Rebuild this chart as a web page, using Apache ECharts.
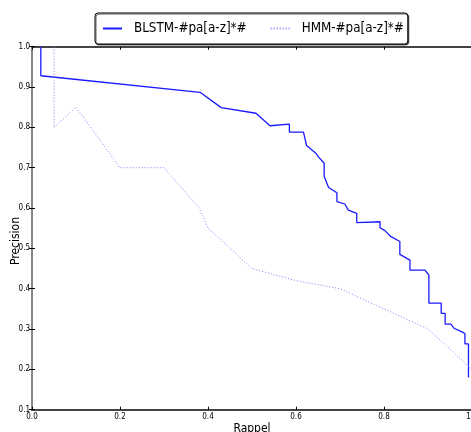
<!DOCTYPE html>
<html>
<head>
<meta charset="utf-8">
<script src="https://cdn.jsdelivr.net/npm/echarts@6/dist/echarts.min.js"></script>
<style>
html,body{margin:0;padding:0;background:#fff;}
#chart{width:471px;height:432px;}
</style>
</head>
<body>
<div id="chart"></div>
<script>
const seriesNames = ['BLSTM-#pa[a-z]*#', 'HMM-#pa[a-z]*#'];
const xTicks = [0, 0.2, 0.4, 0.6, 0.8, 1.0];
const yTicks = [0.1, 0.2, 0.3, 0.4, 0.5, 0.6, 0.7, 0.8, 0.9, 1.0];
const xTitle = 'Rappel';
const yTitle = 'Precision';

// BLSTM: recall values and precision values
const blstmRecall = [0.02, 0.02, 0.382, 0.43, 0.509, 0.541, 0.585, 0.585, 0.617, 0.624, 0.645, 0.651, 0.664, 0.664, 0.674, 0.693, 0.693, 0.711, 0.719, 0.738, 0.738, 0.791, 0.791, 0.802, 0.816, 0.836, 0.836, 0.859, 0.859, 0.893, 0.902, 0.902, 0.93, 0.93, 0.939, 0.939, 0.952, 0.959, 0.977, 0.984, 0.984, 0.992, 0.992];
const blstmPrecision = [1.0, 0.928, 0.887, 0.849, 0.835, 0.804, 0.808, 0.788, 0.788, 0.755, 0.736, 0.727, 0.711, 0.679, 0.651, 0.638, 0.616, 0.610, 0.595, 0.587, 0.564, 0.566, 0.551, 0.544, 0.529, 0.517, 0.485, 0.471, 0.446, 0.446, 0.434, 0.364, 0.364, 0.339, 0.339, 0.312, 0.312, 0.302, 0.293, 0.289, 0.263, 0.263, 0.18];

// HMM
const hmmRecall = [0.05, 0.05, 0.1, 0.2, 0.3, 0.38, 0.4, 0.5, 0.6, 0.7, 0.8, 0.9, 1.0];
const hmmPrecision = [1.0, 0.80, 0.85, 0.70, 0.70, 0.60, 0.55, 0.45, 0.42, 0.40, 0.35, 0.30, 0.20];

const FONT = '"DejaVu Sans Condensed", "Liberation Sans Narrow", "DejaVu Sans", sans-serif';

const zip = (a, b) => a.map((v, i) => [v, b[i]]);

const chart = echarts.init(document.getElementById('chart'), null, {renderer: 'canvas'});

const tickFmt = v => Number(v).toFixed(1);

chart.setOption({
  animation: false,
  backgroundColor: '#fff',
  grid: {left: 32, right: -1, top: 46.7, bottom: 22.3, containLabel: false, outerBoundsMode: 'none'},
  legend: {
    left: 95, top: 13,
    padding: [7, 4, 7, 7],
    itemWidth: 19, itemHeight: 2, itemGap: 23,
    borderColor: '#000', borderWidth: 1, borderRadius: 3,
    backgroundColor: '#fff',
    shadowColor: 'rgba(0,0,0,0.6)', shadowOffsetX: 1, shadowOffsetY: 1, shadowBlur: 0,
    itemStyle: {opacity: 0},
    textStyle: {fontFamily: FONT, fontSize: 13.3, color: '#000', lineHeight: 17, padding: [0, 0, 0, 7]},
    data: seriesNames
  },
  xAxis: [
    {
      type: 'value', min: 0, max: 1, interval: 0.2, position: 'bottom',
      axisLine: {show: true, lineStyle: {color: '#444', width: 2}},
      axisTick: {show: true, inside: true, length: 3, lineStyle: {color: '#000'}},
      axisLabel: {fontFamily: FONT, fontSize: 8, color: '#000', margin: 3, formatter: tickFmt},
      splitLine: {show: false}
    },
    {
      type: 'value', min: 0, max: 1, interval: 0.2, position: 'top',
      axisLine: {show: true, lineStyle: {color: '#444', width: 2}},
      axisTick: {show: true, inside: true, length: 3, lineStyle: {color: '#000'}},
      axisLabel: {show: false},
      splitLine: {show: false}
    }
  ],
  yAxis: [
    {
      type: 'value', min: 0.1, max: 1.0, interval: 0.1, position: 'left',
      axisLine: {show: true, lineStyle: {color: '#888', width: 2}},
      axisTick: {show: true, inside: true, length: 3, lineStyle: {color: '#000'}},
      axisLabel: {fontFamily: FONT, fontSize: 8, color: '#000', margin: 2, formatter: tickFmt},
      splitLine: {show: false}
    },
    {
      type: 'value', min: 0.1, max: 1.0, interval: 0.1, position: 'right',
      axisLine: {show: false},
      axisTick: {show: true, inside: true, length: 3, lineStyle: {color: '#000'}},
      axisLabel: {show: false},
      splitLine: {show: false}
    }
  ],
  series: [
    {
      name: seriesNames[0], type: 'line', symbol: 'none', showSymbol: false,
      data: zip(blstmRecall, blstmPrecision),
      lineStyle: {color: '#1a1aff', width: 1.3, type: 'solid'},
      itemStyle: {color: '#1a1aff'},
      clip: true
    },
    {
      name: seriesNames[1], type: 'line', symbol: 'none', showSymbol: false,
      data: zip(hmmRecall, hmmPrecision),
      lineStyle: {color: '#7f7fff', width: 1, type: [1, 2]},
      itemStyle: {color: '#7f7fff'},
      clip: true
    }
  ],
  graphic: [
    {
      type: 'text', x: 252, y: 423,
      style: {text: xTitle, fontFamily: FONT, fontSize: 12, fill: '#000', align: 'center', verticalAlign: 'top'}
    },
    {
      type: 'text', x: 16, y: 241, rotation: Math.PI / 2,
      style: {text: yTitle, fontFamily: FONT, fontSize: 12, fill: '#000', align: 'center', verticalAlign: 'middle'}
    }
  ]
});
</script>
</body>
</html>
